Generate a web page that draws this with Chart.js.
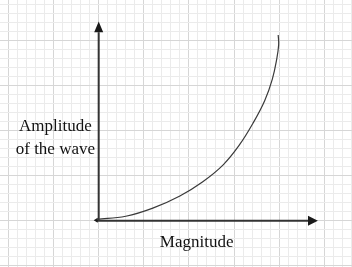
<!DOCTYPE html>
<html>
<head>
<meta charset="utf-8">
<script src="https://cdn.jsdelivr.net/npm/chart.js@4.4.1/dist/chart.umd.min.js"></script>
<style>
  html, body { margin: 0; padding: 0; background: #fff; }
  #wrap { width: 352px; height: 267px; position: relative; }
</style>
</head>
<body>
<div id="wrap"><canvas id="chart"></canvas></div>
<script>
// curve, in grid squares from the origin
const curveX = [-0.2, 3.0, 6.0, 9.0, 11.5, 13.8, 15.6, 17.1, 18.4, 19.25, 19.75, 19.95, 19.9];
const curveY = [0.15, 0.5, 1.4, 2.75, 4.3, 6.2, 8.4, 10.8, 13.3, 15.7, 18.0, 19.5, 20.6];

// visible window of the grid paper
const xRange = [-10.94, 28.08];
const yRange = [-5.13, 24.47];

// drawn axes (arrow base, arrow tip)
const xAxisEnd = [23.2, 24.3];
const yAxisEnd = [20.9, 22.1];

const xTitle = "Magnitude";
const yTitle = ["Amplitude", "of the wave"];

const minorColor = "#ebebeb";
const majorColor = "#d6d6d6";
const font = "17px 'Liberation Serif', 'Times New Roman', serif";

const gridTicks = (min, max) => {
    const out = [];
    for (let v = Math.ceil(min); v <= max; v++) out.push({ value: v });
    return out;
};

const gridColor = ctx => (ctx.tick && Math.abs(ctx.tick.value) % 5 === 0) ? majorColor : minorColor;

const sketch = {
    id: "sketch",
    beforeDatasetsDraw(chart) {
        const { ctx, scales: { x, y } } = chart;
        const x0 = x.getPixelForValue(0);
        const y0 = y.getPixelForValue(0);
        const xb = x.getPixelForValue(xAxisEnd[0]), xt = x.getPixelForValue(xAxisEnd[1]);
        const yb = y.getPixelForValue(yAxisEnd[0]), yt = y.getPixelForValue(yAxisEnd[1]);
        ctx.save();
        ctx.strokeStyle = "#333";
        ctx.lineWidth = 2;
        ctx.beginPath();
        ctx.moveTo(x0 - 2, y0);
        ctx.lineTo(xb, y0);
        ctx.moveTo(x0, y0);
        ctx.lineTo(x0, yb);
        ctx.stroke();

        ctx.fillStyle = "#1a1a1a";
        ctx.beginPath();
        ctx.moveTo(xt, y0);
        ctx.lineTo(xb, y0 - 5);
        ctx.lineTo(xb, y0 + 5);
        ctx.closePath();
        ctx.moveTo(x0, yt);
        ctx.lineTo(x0 - 4.5, yb);
        ctx.lineTo(x0 + 4.5, yb);
        ctx.closePath();
        // little tip at the origin
        ctx.moveTo(x0 - 5, y0 - 0.5);
        ctx.lineTo(x0 - 1, y0 - 3);
        ctx.lineTo(x0 - 1, y0 + 2);
        ctx.closePath();
        ctx.fill();
        ctx.restore();
    },
    afterDraw(chart) {
        const { ctx, scales: { x, y } } = chart;
        ctx.save();
        ctx.font = font;
        ctx.fillStyle = "#111";
        ctx.textAlign = "center";
        ctx.textBaseline = "alphabetic";
        ctx.fillText(xTitle, x.getPixelForValue(10.86), y.getPixelForValue(-2.95));
        ctx.fillText(yTitle[0], x.getPixelForValue(-4.8), y.getPixelForValue(9.98));
        ctx.fillText(yTitle[1], x.getPixelForValue(-4.8), y.getPixelForValue(7.36));
        ctx.restore();
    }
};

const chart = new Chart(document.getElementById("chart"), {
    type: "scatter",
    data: {
        datasets: [{
            data: curveX.map((v, i) => ({ x: v, y: curveY[i] })),
            showLine: true,
            borderColor: "#3a3a3a",
            borderWidth: 1.2,
            pointRadius: 0,
            tension: 0.4,
            fill: false
        }]
    },
    options: {
        responsive: true,
        maintainAspectRatio: false,
        animation: false,
        events: [],
        layout: { padding: 0 },
        plugins: { legend: { display: false }, tooltip: { enabled: false } },
        scales: {
            x: {
                type: "linear",
                min: xRange[0],
                max: xRange[1],
                afterBuildTicks: axis => { axis.ticks = gridTicks(xRange[0], xRange[1]); },
                ticks: { display: false },
                border: { display: false },
                grid: { color: gridColor, lineWidth: 1, drawTicks: false }
            },
            y: {
                type: "linear",
                min: yRange[0],
                max: yRange[1],
                afterBuildTicks: axis => { axis.ticks = gridTicks(yRange[0], yRange[1]); },
                ticks: { display: false },
                border: { display: false },
                grid: { color: gridColor, lineWidth: 1, drawTicks: false }
            }
        }
    },
    plugins: [sketch]
});
</script>
</body>
</html>
